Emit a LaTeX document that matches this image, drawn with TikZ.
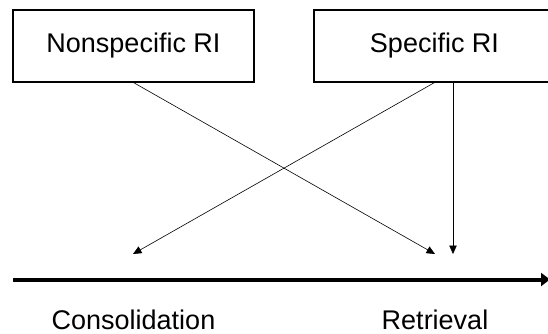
\documentclass[tikz,border=0pt]{standalone}
\usepackage{fontspec}
\setmainfont{Liberation Sans}
\usetikzlibrary{arrows.meta}
\begin{document}
\begin{tikzpicture}[x=1pt, y=-1pt,
  box/.style={draw, line width=1.1pt, minimum width=241pt, minimum height=72pt,
    inner sep=0pt, font=\fontsize{27}{32}\selectfont},
  conn/.style={line width=0.6pt, -{Triangle[length=8.5pt,width=7.5pt]}},
  axis/.style={line width=4pt, -{Triangle[length=9pt,width=13pt]}},
  stage/.style={font=\fontsize{27}{32}\selectfont, anchor=base, inner sep=0pt}]
\useasboundingbox (0,0) rectangle (548,334);

% interference sources
\node[box] (nonspec) at (133.5,46) {Nonspecific RI};
\node[box] (spec) at (434.5,46) {Specific RI};

% arrow targets above the time line
\coordinate (consTip) at (133,254);
\coordinate (retTip) at (435,254);
\coordinate (retTipB) at (453,254);

\draw[conn] (nonspec.south) -- (retTip);
\draw[conn] (spec.south) -- (consTip);
\draw[conn] (spec.south -| retTipB) -- (retTipB);

% time line
\coordinate (axStart) at (13,279.5);
\coordinate (axEnd) at (550,279.5);
\draw[axis] (axStart) -- (axEnd);

% stages
\node[stage] (cons) at (133.5,329) {Consolidation};
\node[stage] (retr) at (435,329) {Retrieval};
\end{tikzpicture}
\end{document}
